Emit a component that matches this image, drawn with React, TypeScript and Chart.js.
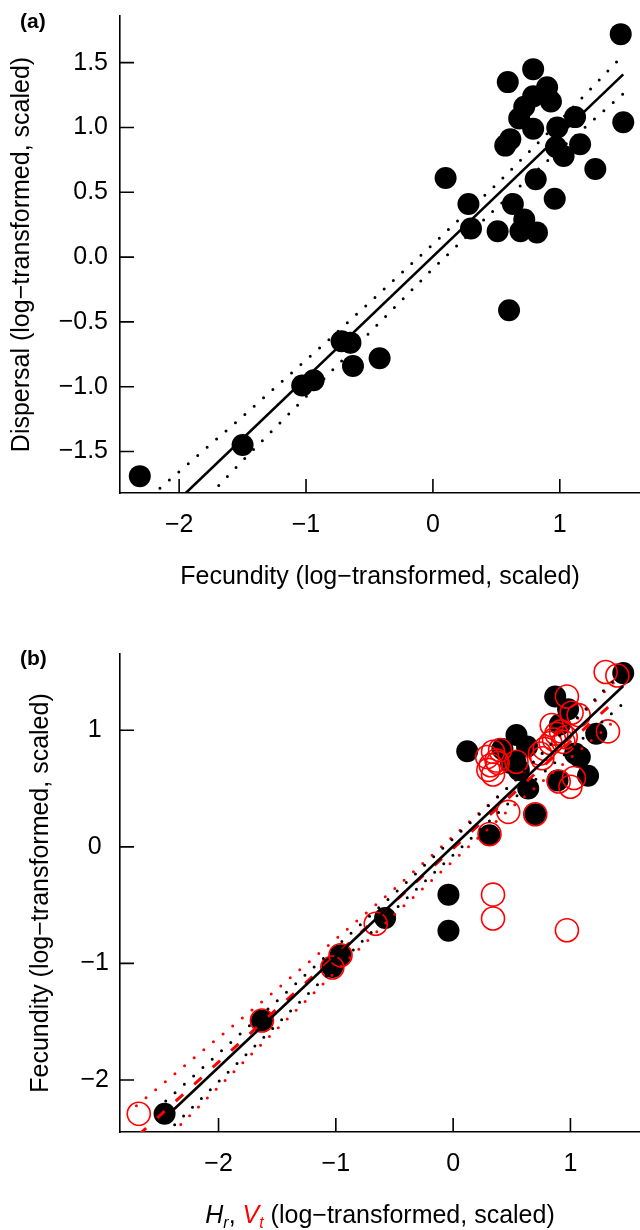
import React, { useEffect, useRef } from 'react';
import { Chart, registerables } from 'chart.js';

Chart.register(...registerables);

const FONT = '"Liberation Sans", Arial, Helvetica, sans-serif';

// ---------- Panel (a): Fecundity (x) vs Dispersal (y) ----------
const A_FECUNDITY = [1.48, 1.50, 0.79, 0.59, 0.90, 0.79, 0.93, 0.72, 1.12, 0.68, 0.79, 0.98, 0.61, 0.57, 0.97, 1.16, 1.03, 1.28, 0.10, 0.81, 0.96, 0.28, 0.63, 0.72, 0.30, 0.51, 0.69, 0.82, 0.60, -0.42, -0.63, -0.65, -0.72, -0.94, -1.03, -1.50, -2.31];
const A_DISPERSAL = [1.72, 1.04, 1.45, 1.35, 1.31, 1.24, 1.20, 1.16, 1.08, 1.07, 0.99, 1.00, 0.91, 0.86, 0.85, 0.87, 0.78, 0.68, 0.61, 0.60, 0.45, 0.41, 0.41, 0.29, 0.22, 0.20, 0.20, 0.19, -0.41, -0.78, -0.84, -0.66, -0.65, -0.95, -0.99, -1.45, -1.69];
const A_FIT_X = [-2.30, 1.50];
const A_FIT_Y = [-2.15, 1.41];
const A_BAND_X = [-2.30, -1.50, -0.80, 0.00, 0.50, 1.00, 1.50];
const A_BAND_UPPER = [-1.91, -1.23, -0.62, 0.10, 0.56, 1.05, 1.56];
const A_BAND_LOWER = [-2.39, -1.57, -0.88, -0.09, 0.38, 0.83, 1.26];
const A_X_TICKS = [-2, -1, 0, 1];
const A_Y_TICKS = [-1.5, -1.0, -0.5, 0.0, 0.5, 1.0, 1.5];
const A_X_RANGE = [-2.466, 1.632];
const A_Y_RANGE = [-1.82, 1.86];

// ---------- Panel (b): Hr (black) / Vt (red) vs Fecundity ----------
const B_HR = [1.45, 0.87, 0.98, 0.91, 0.54, 0.12, 0.42, 0.63, 1.22, 1.08, 1.04, 1.15, 0.89, 0.64, 0.56, 0.49, 0.53, 0.70, 0.31, -0.04, -0.04, -0.58, -0.96, -1.03, -1.63, -2.46];
const B_HR_FECUNDITY = [1.49, 1.29, 1.18, 1.05, 0.96, 0.82, 0.84, 0.86, 0.97, 0.77, 0.80, 0.61, 0.57, 0.50, 0.66, 0.72, 0.73, 0.28, 0.10, -0.41, -0.72, -0.61, -0.93, -1.03, -1.49, -2.29];
const B_VT = [1.30, 1.40, 0.97, 1.01, 1.07, 0.84, 0.88, 0.92, 0.96, 0.86, 0.83, 0.94, 0.78, 1.32, 0.34, 0.40, 0.29, 0.37, 0.32, 0.30, 0.38, 0.34, 0.54, 0.74, 0.76, 0.90, 1.03, 1.00, 0.47, 0.70, 0.31, 0.34, 0.34, 0.97, -0.66, -0.96, -1.03, -1.63, -2.68];
const B_VT_FECUNDITY = [1.50, 1.47, 1.29, 1.15, 1.13, 1.045, 0.97, 0.99, 0.94, 0.92, 0.89, 0.90, 0.84, 0.99, 0.815, 0.83, 0.77, 0.74, 0.70, 0.66, 0.72, 0.62, 0.73, 0.80, 0.76, 0.56, 0.59, 0.515, 0.30, 0.28, 0.11, -0.41, -0.615, -0.715, -0.66, -0.93, -1.035, -1.49, -2.29];
const B_HR_FIT_X = [-2.42, 1.45];
const B_HR_FIT_Y = [-2.29, 1.38];
const B_HR_BAND_X = [-2.45, -1.50, -0.50, 0.50, 1.45];
const B_HR_BAND_UPPER = [-2.18, -1.32, -0.40, 0.54, 1.51];
const B_HR_BAND_LOWER = [-2.46, -1.52, -0.54, 0.40, 1.23];
const B_VT_FIT_X = [-2.68, 1.40];
const B_VT_FIT_Y = [-2.47, 1.27];
const B_VT_BAND_X = [-2.70, -1.50, -0.50, 0.50, 1.40];
const B_VT_BAND_UPPER = [-2.22, -1.22, -0.36, 0.54, 1.44];
const B_VT_BAND_LOWER = [-2.76, -1.56, -0.58, 0.34, 1.10];
const B_X_TICKS = [-2, -1, 0, 1];
const B_Y_TICKS = [-2, -1, 0, 1];
const B_X_RANGE = [-2.84, 1.593];
const B_Y_RANGE = [-2.446, 1.654];

const pts = (xs: number[], ys: number[]) => xs.map((x, i) => ({ x, y: ys[i] }));
const minus = (s: string) => s.replace('-', '\u2212');

const inwardTicks = {
  id: 'inwardTicks',
  afterDraw(chart: any) {
    const ctx = chart.ctx;
    const xs = chart.scales.x;
    const ys = chart.scales.y;
    const { left, bottom } = chart.chartArea;
    ctx.save();
    ctx.strokeStyle = '#000';
    ctx.lineWidth = 1.6;
    ctx.beginPath();
    xs.ticks.forEach((t: any) => {
      const p = xs.getPixelForValue(t.value);
      ctx.moveTo(p, bottom);
      ctx.lineTo(p, bottom - 14);
    });
    ys.ticks.forEach((t: any) => {
      const p = ys.getPixelForValue(t.value);
      ctx.moveTo(left, p);
      ctx.lineTo(left + 14, p);
    });
    ctx.stroke();
    ctx.restore();
  },
};

function panelLabel(text: string, y: number) {
  return {
    id: 'panelLabel',
    afterDraw(chart: any) {
      const ctx = chart.ctx;
      ctx.save();
      ctx.fillStyle = '#000';
      ctx.font = `bold 21px ${FONT}`;
      ctx.textAlign = 'left';
      ctx.textBaseline = 'middle';
      ctx.fillText(text, 20, y);
      ctx.restore();
    },
  };
}

const mixedXTitle = {
  id: 'mixedXTitle',
  afterDraw(chart: any) {
    const ctx = chart.ctx;
    const size = 25;
    const sub = 16;
    const parts = [
      { t: 'H', font: `italic ${size}px ${FONT}`, color: '#000', dy: 0 },
      { t: 'r', font: `italic ${sub}px ${FONT}`, color: '#000', dy: 5 },
      { t: ', ', font: `${size}px ${FONT}`, color: '#000', dy: 0 },
      { t: 'V', font: `italic ${size}px ${FONT}`, color: '#ff0000', dy: 0 },
      { t: 't', font: `italic ${sub}px ${FONT}`, color: '#ff0000', dy: 5 },
      { t: ' (log\u2212transformed, scaled)', font: `${size}px ${FONT}`, color: '#000', dy: 0 },
    ];
    ctx.save();
    ctx.textBaseline = 'alphabetic';
    ctx.textAlign = 'left';
    let total = 0;
    const widths = parts.map((p) => {
      ctx.font = p.font;
      const w = ctx.measureText(p.t).width;
      total += w;
      return w;
    });
    const { left, right } = chart.chartArea;
    let x = (left + right) / 2 - total / 2;
    const baseline = 608;
    parts.forEach((p, i) => {
      ctx.font = p.font;
      ctx.fillStyle = p.color;
      ctx.fillText(p.t, x, baseline + p.dy);
      x += widths[i];
    });
    ctx.restore();
  },
};

const scatterDs = (data: any[], filled: boolean, color: string, radius: number, order: number) => ({
  type: 'scatter',
  data,
  showLine: false,
  pointRadius: radius,
  pointHoverRadius: radius,
  pointBackgroundColor: filled ? color : 'rgba(0,0,0,0)',
  pointBorderColor: color,
  pointBorderWidth: filled ? 0 : 1.6,
  order,
  clip: false,
});

const lineDs = (data: any[], color: string, width: number, dash: number[], order: number) => ({
  type: 'scatter',
  data,
  showLine: true,
  fill: false,
  pointRadius: 0,
  pointHoverRadius: 0,
  borderColor: color,
  borderWidth: width,
  borderDash: dash,
  borderCapStyle: dash.length && dash[0] === 0 ? 'round' : 'butt',
  tension: 0,
  order,
});

function baseScales(opts: any) {
  const tickFont = { family: FONT, size: 25 };
  return {
    x: {
      type: 'linear',
      position: 'bottom',
      min: opts.xRange[0],
      max: opts.xRange[1],
      afterBuildTicks: (s: any) => {
        s.ticks = opts.xTicks.map((v: number) => ({ value: v }));
      },
      afterFit: (s: any) => {
        s.height = opts.xHeight;
        s.paddingLeft = 0;
        s.paddingRight = 0;
      },
      grid: { display: false, drawTicks: false },
      border: { display: true, color: '#000', width: 1.6 },
      ticks: {
        color: '#000',
        font: tickFont,
        padding: 17,
        maxRotation: 0,
        autoSkip: false,
        callback: (v: any) => minus(String(v)),
      },
      title: opts.xTitle
        ? {
            display: true,
            text: opts.xTitle,
            color: '#000',
            font: { family: FONT, size: 25 },
            padding: { top: 0, bottom: 23 },
          }
        : { display: false },
    },
    y: {
      type: 'linear',
      position: 'left',
      min: opts.yRange[0],
      max: opts.yRange[1],
      afterBuildTicks: (s: any) => {
        s.ticks = opts.yTicks.map((v: number) => ({ value: v }));
      },
      afterFit: (s: any) => {
        s.width = 120;
        s.paddingTop = 0;
        s.paddingBottom = 0;
      },
      grid: { display: false, drawTicks: false },
      border: { display: true, color: '#000', width: 1.6 },
      ticks: {
        color: '#000',
        font: tickFont,
        padding: opts.yPad,
        crossAlign: opts.yAlign,
        autoSkip: false,
        callback: opts.yFmt,
      },
      title: {
        display: true,
        text: opts.yTitle,
        color: '#000',
        font: { family: FONT, size: 25 },
        padding: { top: opts.yTitlePad, bottom: 0 },
      },
    },
  };
}

function configA(): any {
  return {
    type: 'scatter',
    data: {
      datasets: [
        lineDs(pts(A_FIT_X, A_FIT_Y), '#000', 2.6, [], 0),
        lineDs(pts(A_BAND_X, A_BAND_UPPER), '#000', 3, [0, 12.5], 0),
        lineDs(pts(A_BAND_X, A_BAND_LOWER), '#000', 3, [0, 12.5], 0),
        scatterDs(pts(A_FECUNDITY, A_DISPERSAL), true, '#000', 11, 2),
      ],
    },
    options: {
      animation: false,
      responsive: false,
      devicePixelRatio: 1,
      layout: { autoPadding: false, padding: { top: 16, left: 0, right: 0, bottom: 0 } },
      plugins: { legend: { display: false }, tooltip: { enabled: false } },
      scales: baseScales({
        xRange: A_X_RANGE,
        yRange: A_Y_RANGE,
        xTicks: A_X_TICKS,
        yTicks: A_Y_TICKS,
        xHeight: 122,
        xTitle: 'Fecundity (log\u2212transformed, scaled)',
        yTitle: 'Dispersal (log\u2212transformed, scaled)',
        yTitlePad: 7,
        yPad: 12,
        yAlign: 'near',
        yFmt: (v: any) => minus(Number(v).toFixed(1)),
      }),
    },
    plugins: [inwardTicks, panelLabel('(a)', 22)],
  };
}

function configB(): any {
  return {
    type: 'scatter',
    data: {
      datasets: [
        lineDs(pts(B_HR_FIT_X, B_HR_FIT_Y), '#000', 2.6, [], 0),
        lineDs(pts(B_HR_BAND_X, B_HR_BAND_UPPER), '#000', 3, [0, 12.5], 0),
        lineDs(pts(B_HR_BAND_X, B_HR_BAND_LOWER), '#000', 3, [0, 12.5], 0),
        lineDs(pts(B_VT_FIT_X, B_VT_FIT_Y), '#ff0000', 3, [10, 15], 0),
        lineDs(pts(B_VT_BAND_X, B_VT_BAND_UPPER), '#ff0000', 3, [0, 12.5], 0),
        lineDs(pts(B_VT_BAND_X, B_VT_BAND_LOWER), '#ff0000', 3, [0, 12.5], 0),
        scatterDs(pts(B_VT, B_VT_FECUNDITY), false, '#ff0000', 11.5, 1),
        scatterDs(pts(B_HR, B_HR_FECUNDITY), true, '#000', 11, 2),
      ],
    },
    options: {
      animation: false,
      responsive: false,
      devicePixelRatio: 1,
      layout: { autoPadding: false, padding: { top: 39, left: 0, right: 0, bottom: 0 } },
      plugins: { legend: { display: false }, tooltip: { enabled: false } },
      scales: baseScales({
        xRange: B_X_RANGE,
        yRange: B_Y_RANGE,
        xTicks: B_X_TICKS,
        yTicks: B_Y_TICKS,
        xHeight: 98,
        xTitle: null,
        yTitle: 'Fecundity (log\u2212transformed, scaled)',
        yTitlePad: 26,
        yPad: 11,
        yAlign: 'center',
        yFmt: (v: any) => minus(String(v)),
      }),
    },
    plugins: [inwardTicks, panelLabel('(b)', 44), mixedXTitle],
  };
}

function Panel({ make }: { make: () => any }) {
  const ref = useRef<HTMLCanvasElement>(null);
  useEffect(() => {
    const chart = new Chart(ref.current as HTMLCanvasElement, make());
    return () => chart.destroy();
  }, [make]);
  return <canvas ref={ref} width={640} height={615} style={{ display: 'block', width: 640, height: 615 }} />;
}

export default function App() {
  return (
    <div style={{ position: 'absolute', left: 0, top: 0, width: 640, height: 1230, background: '#fff' }}>
      <Panel make={configA} />
      <Panel make={configB} />
    </div>
  );
}
